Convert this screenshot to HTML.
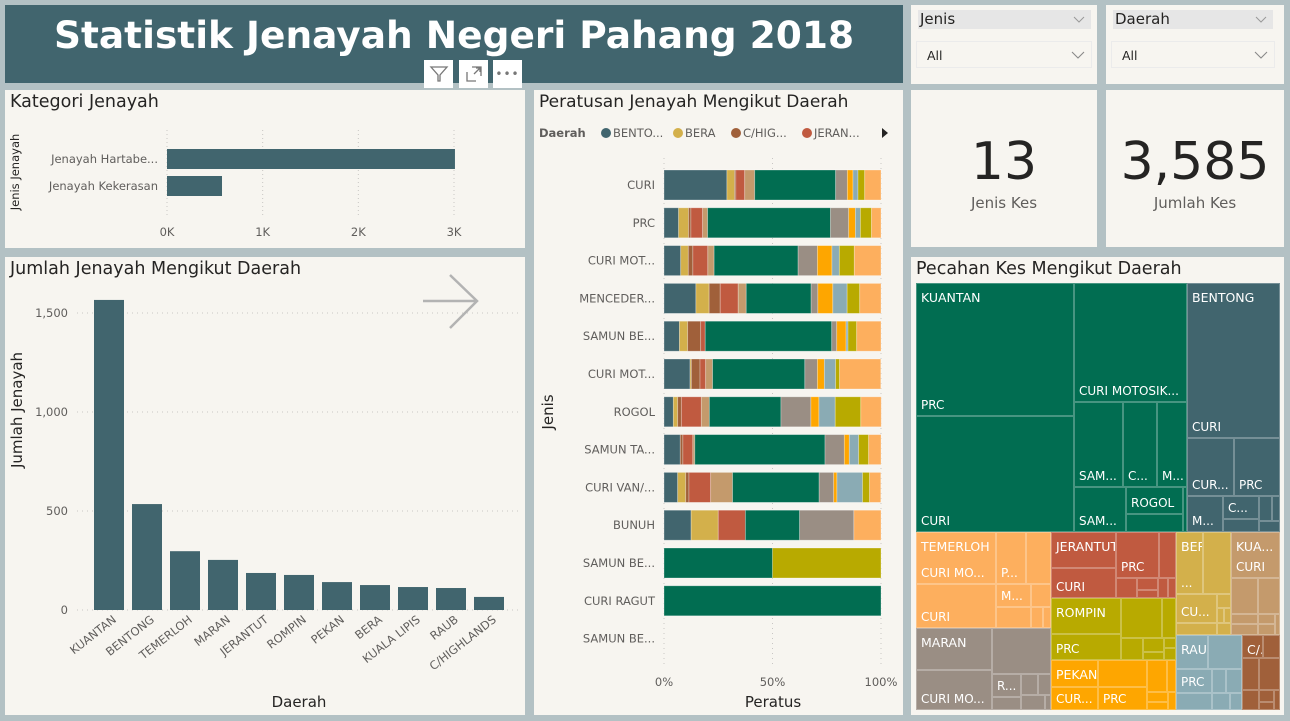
<!DOCTYPE html>
<html><head><meta charset="utf-8">
<style>
*{box-sizing:border-box;margin:0;padding:0}
body{width:1290px;height:721px;background:#b3c1c4;position:relative;overflow:hidden;font-family:"DejaVu Sans","Liberation Sans",sans-serif}
.panel{position:absolute;background:#f7f5f0}
.ptitle{position:absolute;left:5px;top:2px;font-size:17.5px;color:#252423;white-space:nowrap}
.tm{position:absolute;border:1px solid rgba(255,255,255,0.28);color:#fff;font-size:12px;overflow:hidden}
.tm .t{position:absolute;left:4px;top:6px;white-space:nowrap}
.tm .b{position:absolute;left:4px;bottom:3px;white-space:nowrap}
.slicer-h{position:absolute;left:7px;top:5px;width:173px;height:19px;background:#e6e6e6;font-size:15px;color:#252423;padding-left:2px;line-height:19px}
.slicer-v{position:absolute;left:5px;top:36px;width:176px;height:27px;border:1px solid #ebebeb;font-size:12.5px;color:#252423;padding-left:10px;line-height:27px}
.chev{position:absolute;right:6px;top:50%;margin-top:-4px}
.icon{position:absolute;top:60px;width:29px;height:28px;background:#fff;color:#777;text-align:center;font-size:16px;line-height:28px}
</style></head><body>

<div class="panel" style="left:5px;top:5px;width:898px;height:78px;background:#41656e">
  <div style="position:absolute;left:0;width:898px;top:8px;text-align:center;color:#fff;font-weight:bold;font-size:37.5px;white-space:nowrap">Statistik Jenayah Negeri Pahang 2018</div>
</div>
<div class="icon" style="left:424px">
<svg width="20" height="20" viewBox="0 0 20 20" style="margin-top:4px"><path d="M2 3 H18 L11 11 V17 L9 17 V11 Z" fill="none" stroke="#777" stroke-width="1.3"/></svg></div>
<div class="icon" style="left:459px">
<svg width="20" height="20" viewBox="0 0 20 20" style="margin-top:4px"><path d="M3 8 V17 H12 M8 3 H17 V12 M10 10 L16 4 M12 4 H16 V8" fill="none" stroke="#777" stroke-width="1.3"/></svg></div>
<div class="icon" style="left:493px;letter-spacing:1px;font-size:12px">•••</div>

<div class="panel" style="left:911px;top:5px;width:186px;height:79px">
  <div class="slicer-h">Jenis<svg class="chev" width="12" height="8"><path d="M1 1 L6 6 L11 1" fill="none" stroke="#999" stroke-width="1"/></svg></div>
  <div class="slicer-v">All<svg class="chev" width="14" height="8"><path d="M1 1 L7 7 L13 1" fill="none" stroke="#888" stroke-width="1.1"/></svg></div>
</div>
<div class="panel" style="left:1106px;top:5px;width:178px;height:79px">
  <div class="slicer-h" style="width:160px">Daerah<svg class="chev" width="12" height="8"><path d="M1 1 L6 6 L11 1" fill="none" stroke="#999" stroke-width="1"/></svg></div>
  <div class="slicer-v" style="width:164px">All<svg class="chev" width="14" height="8"><path d="M1 1 L7 7 L13 1" fill="none" stroke="#888" stroke-width="1.1"/></svg></div>
</div>

<div class="panel" style="left:5px;top:90px;width:520px;height:158px"><div class="ptitle">Kategori Jenayah</div></div>
<div class="panel" style="left:5px;top:257px;width:520px;height:458px"><div class="ptitle">Jumlah Jenayah Mengikut Daerah</div></div>
<div class="panel" style="left:534px;top:90px;width:369px;height:625px"><div class="ptitle" style="font-size:17px">Peratusan Jenayah Mengikut Daerah</div></div>
<div class="panel" style="left:911px;top:90px;width:186px;height:157px">
  <div style="position:absolute;width:100%;text-align:center;top:42px;font-size:52px;color:#252423">13</div>
  <div style="position:absolute;width:100%;text-align:center;top:104px;font-size:15px;color:#605e5c">Jenis Kes</div>
</div>
<div class="panel" style="left:1106px;top:90px;width:178px;height:157px">
  <div style="position:absolute;width:100%;text-align:center;top:42px;font-size:52px;color:#252423">3,585</div>
  <div style="position:absolute;width:100%;text-align:center;top:104px;font-size:15px;color:#605e5c">Jumlah Kes</div>
</div>
<div class="panel" style="left:911px;top:257px;width:373px;height:458px"><div class="ptitle">Pecahan Kes Mengikut Daerah</div></div>

<svg id="charts" width="1290" height="721" style="position:absolute;left:0;top:0" font-family="DejaVu Sans, Liberation Sans, sans-serif"></svg>
<div id="treemap"></div>

<script>
// ---- Kategori chart data
const katCats = ["Jenayah Hartabe...", "Jenayah Kekerasan"];
const katVals = [3010, 575];
const katTicks = [0, 1000, 2000, 3000];
const katTickLabels = ["0K", "1K", "2K", "3K"];

// ---- Daerah bar chart data
const dCats = ["KUANTAN","BENTONG","TEMERLOH","MARAN","JERANTUT","ROMPIN","PEKAN","BERA","KUALA LIPIS","RAUB","C/HIGHLANDS"];
const dVals = [1566, 535, 297, 253, 187, 177, 141, 126, 116, 111, 66];
const dTicks = [0, 500, 1000, 1500];
const dTickLabels = ["0", "500", "1,000", "1,500"];

// ---- 100% stacked chart data
const pCats = ["CURI","PRC","CURI MOT...","MENCEDER...","SAMUN BE...","CURI MOT...","ROGOL","SAMUN TA...","CURI VAN/...","BUNUH","SAMUN BE...","CURI RAGUT","SAMUN BE..."];
const pSeries = ["BENTONG","BERA","C/HIGHLANDS","JERANTUT","KUALA LIPIS","KUANTAN","MARAN","PEKAN","RAUB","ROMPIN","TEMERLOH"];
const pColors = ["#41656e","#d3b04b","#a0603a","#c05a40","#c49a6c","#016d51","#9a8e84","#fea600","#8aabb4","#b8aa00","#fdaf5e"];
const pBENTONG  = [29,6.7,7.7,14.7,7.1,12,4.3,7.5,6.3,12.5,0,0,0];
const pBERA     = [3.5,4.6,3.5,6.1,3.8,0.6,2,0,3.7,12.5,0,0,0];
const pCH       = [0.6,1.1,2.1,5.1,6,4,1.7,1.2,1.5,0,0,0,0];
const pJERANTUT = [4.1,5.4,6.9,8.3,2.1,2.6,9.2,4.6,10,12.5,0,0,0];
const pKLIPIS   = [4.6,2.3,2.9,3.7,0,3.2,3.7,0.9,10.1,0,0,0,0];
const pKUANTAN  = [37.3,56.6,38.7,29.9,58.3,42.5,33,60,39.9,25,50,100,0];
const pMARAN    = [5.4,8.4,8.9,3.1,2.3,5.8,13.8,8.9,6.7,25,0,0,0];
const pPEKAN    = [2.6,3.1,6.7,6.9,4.3,3.2,3.7,2.3,1.5,0,0,0,0];
const pRAUB     = [2.3,2.3,3.4,6.6,0.9,5.2,7.5,4.3,11.8,0,0,0,0];
const pROMPIN   = [3.1,5.1,6.9,5.8,4,1.8,11.8,4.6,3.2,0,50,0,0];
const pTEMERLOH = [7.5,4.4,12.3,9.8,11.2,19,9.4,5.7,5.2,12.5,0,0,0];
const pTicks = [0, 50, 100];
const pTickLabels = ["0%", "50%", "100%"];

const NS = "http://www.w3.org/2000/svg";
const svg = document.getElementById("charts");
function mk(tag, attrs, txt){const e=document.createElementNS(NS,tag);for(const k in attrs)e.setAttribute(k,attrs[k]);if(txt!==undefined)e.textContent=txt;svg.appendChild(e);return e;}

// ===== Kategori chart
const kx = v => 167 + v * (454-167)/3000;
const ky = i => 149 + i * 27;
katTicks.forEach((t,i)=>{
  let g=mk("line",{x1:kx(t),x2:kx(t),y1:130,y2:215,stroke:"#c8c6c4","stroke-dasharray":"1,3"});
  
  
  let l=mk("text",{x:kx(t),y:236,"text-anchor":"middle","font-size":11.5,fill:"#605e5c"},katTickLabels[i]);
  
  
});
katCats.forEach((c,i)=>{
  let r=mk("rect",{x:kx(0),y:ky(i),width:kx(katVals[i])-kx(0),height:20,fill:"#41656e"});
  
  
  let l=mk("text",{x:158,y:ky(i)+14,"text-anchor":"end","font-size":11.5,fill:"#605e5c"},c);
  
  
});
let kyt=mk("text",{x:0,y:0,transform:"translate(19,172) rotate(-90)","text-anchor":"middle","font-size":11.5,fill:"#252423"},"Jenis Jenayah");



// ===== Daerah bar chart
const dy = v => 610 - v * (610-313)/1500;
const dx = i => 94 + i * 38;
dTicks.forEach((t,i)=>{
  let g=mk("line",{x1:77,x2:520,y1:dy(t),y2:dy(t),stroke:"#c8c6c4","stroke-dasharray":"1,4"});
  
  
  let l=mk("text",{x:68,y:dy(t)+4,"text-anchor":"end","font-size":11.5,fill:"#605e5c"},dTickLabels[i]);
  
  
});
dCats.forEach((c,i)=>{
  let r=mk("rect",{x:dx(i),y:dy(dVals[i]),width:30,height:dy(0)-dy(dVals[i]),fill:"#41656e"});
  
  
  let l=mk("text",{x:0,y:0,transform:`translate(${dx(i)+23},${621}) rotate(-38)`,"text-anchor":"end","font-size":11.5,fill:"#605e5c"},c);
  
  
});
let dyt=mk("text",{x:0,y:0,transform:"translate(22,410) rotate(-90)","text-anchor":"middle","font-size":15,fill:"#252423"},"Jumlah Jenayah");


let dxt=mk("text",{x:299,y:707,"text-anchor":"middle","font-size":15,fill:"#252423"},"Daerah");


let arr=mk("path",{d:"M423 301 H477 M450 275 L477 301 L450 328",fill:"none",stroke:"#b3b3b3","stroke-width":2.5});



// ===== Peratusan chart
const px = v => 664 + v * (881-664)/100;
const py = i => 170 + i * 37.8;
pTicks.forEach((t,i)=>{
  let g=mk("line",{x1:px(t),x2:px(t),y1:158,y2:668,stroke:"#c8c6c4","stroke-dasharray":"1,4"});
  
  
  let l=mk("text",{x:px(t),y:686,"text-anchor":"middle","font-size":11.5,fill:"#605e5c"},pTickLabels[i]);
  
  
});
const pData=[pBENTONG,pBERA,pCH,pJERANTUT,pKLIPIS,pKUANTAN,pMARAN,pPEKAN,pRAUB,pROMPIN,pTEMERLOH];
pCats.forEach((c,i)=>{
  let acc=0;
  pData.forEach((s,j)=>{
    if(s[i]>0){
      let r=mk("rect",{x:px(acc),y:py(i),width:px(acc+s[i])-px(acc),height:30,fill:pColors[j],stroke:"rgba(255,255,255,0.35)","stroke-width":0.8});
      
      
    }
    acc+=s[i];
  });
  let l=mk("text",{x:655,y:py(i)+19,"text-anchor":"end","font-size":11.5,fill:"#605e5c"},c);
  
  
});
let pyt=mk("text",{x:0,y:0,transform:"translate(553,412) rotate(-90)","text-anchor":"middle","font-size":15,fill:"#252423"},"Jenis");


let pxt=mk("text",{x:773,y:707,"text-anchor":"middle","font-size":15,fill:"#252423"},"Peratus");


// legend
let lt=mk("text",{x:539,y:137,"font-size":11.5,"font-weight":"bold",fill:"#605e5c"},"Daerah");


const legNames=["BENTO...","BERA","C/HIG...","JERAN..."];
const legX=[601,673,731,802];
legNames.forEach((n,i)=>{
  let c=mk("circle",{cx:legX[i]+5,cy:133,r:5,fill:pColors[i]});
  
  
  let t=mk("text",{x:legX[i]+12,y:137,"font-size":11.5,fill:"#605e5c"},n);
  
  
});
let la=mk("path",{d:"M882 128 L888 133 L882 138 Z",fill:"#252423"});



// ===== Treemap (layout rectangles)
const C={KUA:"#016d51",BEN:"#41656e",TEM:"#fdaf5e",MAR:"#9a8e84",JER:"#c05a40",ROM:"#b8aa00",PEK:"#fea600",BER:"#d3b04b",KL:"#c49a6c",RAU:"#8aabb4",CH:"#a0603a"};
const cells=[
["KUA",916,283,1074,416,"KUANTAN","PRC"],["KUA",916,416,1074,532,"","CURI"],["KUA",1074,283,1187,402,"","CURI MOTOSIK..."],
["KUA",1074,402,1123,487,"","SAM..."],["KUA",1123,402,1157,487,"","C..."],["KUA",1157,402,1187,487,"","M..."],
["KUA",1074,487,1126,532,"","SAM..."],["KUA",1126,487,1183,514,"","ROGOL"],["KUA",1126,514,1183,532,"",""],["KUA",1183,487,1187,532,"",""],
["BEN",1187,283,1280,438,"BENTONG","CURI"],["BEN",1187,438,1234,496,"","CUR..."],["BEN",1234,438,1280,496,"","PRC"],
["BEN",1187,496,1223,532,"","M..."],["BEN",1223,496,1259,519,"","C..."],["BEN",1223,519,1259,532,"",""],["BEN",1259,496,1272,521,"",""],["BEN",1272,496,1280,521,"",""],["BEN",1259,521,1280,532,"",""],
["TEM",916,532,996,584,"TEMERLOH","CURI MO..."],["TEM",916,584,996,628,"","CURI"],["TEM",996,532,1026,584,"","P..."],["TEM",1026,532,1051,584,"",""],
["TEM",996,584,1031,607,"","M..."],["TEM",1031,584,1051,607,"",""],["TEM",996,607,1031,628,"",""],["TEM",1031,607,1043,628,"",""],["TEM",1043,607,1051,628,"",""],
["MAR",916,628,992,670,"MARAN",""],["MAR",916,670,992,710,"","CURI MO..."],["MAR",992,628,1051,674,"",""],["MAR",992,674,1021,697,"","R..."],
["MAR",1021,674,1038,695,"",""],["MAR",1038,674,1051,695,"",""],["MAR",992,697,1021,710,"",""],["MAR",1021,695,1045,710,"",""],["MAR",1045,695,1051,710,"",""],
["JER",1051,532,1116,568,"JERANTUT",""],["JER",1051,568,1116,598,"","CURI"],["JER",1116,532,1159,578,"","PRC"],["JER",1159,532,1176,578,"",""],
["JER",1116,578,1137,598,"",""],["JER",1137,578,1158,590,"",""],["JER",1137,590,1158,598,"",""],["JER",1158,578,1168,598,"",""],["JER",1168,578,1176,598,"",""],
["ROM",1051,598,1121,634,"ROMPIN",""],["ROM",1051,634,1121,660,"","PRC"],["ROM",1121,598,1162,638,"",""],["ROM",1162,598,1176,638,"",""],
["ROM",1121,638,1143,660,"",""],["ROM",1143,638,1164,652,"",""],["ROM",1143,652,1164,660,"",""],["ROM",1164,638,1176,648,"",""],["ROM",1164,648,1176,660,"",""],
["PEK",1051,660,1098,687,"PEKAN",""],["PEK",1051,687,1098,710,"","CUR..."],["PEK",1098,660,1147,687,"",""],["PEK",1098,687,1147,710,"","PRC"],
["PEK",1147,660,1167,692,"",""],["PEK",1167,660,1176,692,"",""],["PEK",1147,692,1168,702,"",""],["PEK",1147,702,1168,710,"",""],["PEK",1168,692,1176,710,"",""],
["BER",1176,532,1203,594,"BERA","..."],["BER",1203,532,1231,594,"",""],["BER",1176,594,1217,623,"","CU..."],["BER",1217,594,1231,608,"",""],
["BER",1217,608,1224,623,"",""],["BER",1224,608,1231,623,"",""],["BER",1176,623,1217,635,"",""],["BER",1217,623,1231,635,"",""],
["KL",1231,532,1280,578,"KUA...","CURI"],["KL",1231,578,1258,614,"",""],["KL",1258,578,1280,614,"",""],["KL",1231,614,1258,624,"",""],["KL",1231,624,1258,635,"",""],
["KL",1258,614,1275,624,"",""],["KL",1258,624,1275,635,"",""],["KL",1275,614,1280,635,"",""],
["RAU",1176,635,1208,669,"RAUB",""],["RAU",1208,635,1242,669,"",""],["RAU",1176,669,1212,693,"","PRC"],["RAU",1212,669,1226,693,"",""],["RAU",1226,669,1242,693,"",""],
["RAU",1176,693,1212,710,"",""],["RAU",1212,693,1230,710,"",""],["RAU",1230,693,1242,710,"",""],
["CH",1242,635,1263,658,"C/...",""],["CH",1263,635,1280,658,"",""],["CH",1242,658,1259,690,"",""],["CH",1259,658,1280,690,"",""],
["CH",1242,690,1259,710,"",""],["CH",1259,690,1274,702,"",""],["CH",1274,690,1280,710,"",""],["CH",1259,702,1274,710,"",""]
];
const tm=document.getElementById("treemap");
cells.forEach(c=>{
  const d=document.createElement("div");
  d.className="tm";
  
  
  d.style.cssText=`left:${c[1]}px;top:${c[2]}px;width:${c[3]-c[1]}px;height:${c[4]-c[2]}px;background:${C[c[0]]}`;
  if(c[5]){const t=document.createElement("span");t.className="t";t.textContent=c[5];t.style.fontSize="12.5px";d.appendChild(t);}
  if(c[6]){const b=document.createElement("span");b.className="b";b.textContent=c[6];d.appendChild(b);}
  tm.appendChild(d);
});
</script>
</body></html>
